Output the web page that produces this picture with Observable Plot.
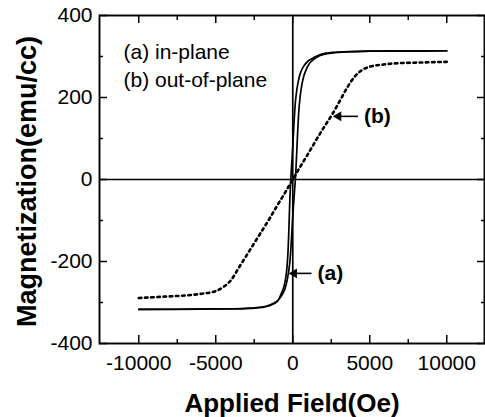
<!DOCTYPE html>
<html><head><meta charset="utf-8">
<script src="https://cdn.jsdelivr.net/npm/d3@7"></script>
<script src="https://cdn.jsdelivr.net/npm/@observablehq/plot@0.6"></script>
<style>body{margin:0;background:#fff}</style>
</head><body><div id="chart"></div>
<script>
const xTicks = [-10000, -5000, 0, 5000, 10000];
const xMinorTicks = [-7500, -2500, 2500, 7500];
const yTicks = [-400, -200, 0, 200, 400];
const yMinorTicks = [-300, -100, 100, 300];
const xTitle = "Applied Field(Oe)";
const yTitle = "Magnetization(emu/cc)";
const legendLabels = ["(a) in-plane", "(b) out-of-plane"];

// (a) in-plane, ascending branch
const inPlaneUpField = [-10000,-6000,-3000,-2000,-1500,-1000,-700,-500,-350,-200,-100,0,100,170,250,330,420,550,700,850,1000,1150,1500,2000,3000,5000,7500,10000];
const inPlaneUpMag   = [-317,-316,-314,-311,-306,-296,-282,-266,-243,-205,-155,-90,-35,0,60,125,180,222,250,266,278,286,297,305,310,313,313,314];
// (a) in-plane, descending branch
const inPlaneDownField = [10000,7500,5000,3000,2000,1500,1300,1000,700,500,350,200,100,0,-130,-200,-260,-330,-420,-580,-800,-1010,-1500,-2000,-3000,-6000,-10000];
const inPlaneDownMag   = [314,314,313,311,307,300,296,289,276,260,238,200,150,80,0,-60,-130,-190,-230,-262,-283,-298,-308,-312,-315,-316,-317];
// (b) out-of-plane
const outPlaneField = [-10000,-9000,-8000,-7000,-6000,-5000,-4500,-4000,-3500,-3000,-2500,-2000,-1500,-1000,-500,0,500,1000,1500,2000,2500,3000,3500,4000,4500,5000,6000,7000,8000,9000,10000];
const outPlaneMag   = [-289,-287,-285,-283,-279,-272,-262,-245,-215,-185,-155,-125,-95,-63,-32,0,32,63,95,126,155,188,222,250,267,275,281,284,285,286,287];

// annotations
const annotLabels = ["(b)", "(a)"];
const annotTipField = [2770, -105];
const annotTailField = [4230, 1215];
const annotMag = [154, -229];

const inPlane = [
  ...inPlaneUpField.map((f, i) => ({field: f, mag: inPlaneUpMag[i], branch: "up"})),
  ...inPlaneDownField.map((f, i) => ({field: f, mag: inPlaneDownMag[i], branch: "down"}))
];
const outPlane = outPlaneField.map((f, i) => ({field: f, mag: outPlaneMag[i]}));
const annots = annotLabels.map((t, i) => ({label: t, tip: annotTipField[i], tail: annotTailField[i], mag: annotMag[i]}));

const font = "'Liberation Sans', Arial, Helvetica, sans-serif";

const chart = Plot.plot({
  width: 485,
  height: 417,
  marginLeft: 99,
  marginRight: 1,
  marginTop: 15,
  marginBottom: 74,
  style: {fontFamily: font, fontSize: "21px", background: "#fff", color: "#000"},
  x: {domain: [-12550, 12450]},
  y: {domain: [-400, 400]},
  marks: [
    Plot.ruleX([0], {stroke: "#000", strokeWidth: 1.7}),
    Plot.ruleY([0], {stroke: "#000", strokeWidth: 1.7}),
    Plot.line(outPlane, {x: "field", y: "mag", stroke: "#000", strokeWidth: 2.6, strokeDasharray: "2.6,3.6", curve: "monotone-x"}),
    Plot.line(inPlane, {x: "field", y: "mag", z: "branch", stroke: "#000", strokeWidth: 1.7, curve: "catmull-rom"}),
    Plot.frame({stroke: "#000", strokeWidth: 1.9}),
    // ticks, inward on all four sides
    Plot.axisX(xTicks, {anchor: "bottom", tickSize: -8, text: null, label: null, strokeWidth: 1.5}),
    Plot.axisX(xMinorTicks, {anchor: "bottom", tickSize: -4, text: null, label: null, strokeWidth: 1.5}),
    Plot.axisX(xTicks, {anchor: "top", tickSize: -7, text: null, label: null, strokeWidth: 1.5}),
    Plot.axisX(xMinorTicks, {anchor: "top", tickSize: -4, text: null, label: null, strokeWidth: 1.5}),
    Plot.axisY(yTicks, {anchor: "left", tickSize: -8, text: null, label: null, strokeWidth: 1.5}),
    Plot.axisY(yMinorTicks, {anchor: "left", tickSize: -4, text: null, label: null, strokeWidth: 1.5}),
    Plot.axisY(yTicks, {anchor: "right", tickSize: -8, text: null, label: null, strokeWidth: 1.5}),
    Plot.axisY(yMinorTicks, {anchor: "right", tickSize: -4, text: null, label: null, strokeWidth: 1.5}),
    // tick labels
    Plot.axisX(xTicks, {anchor: "bottom", tickSize: 0, tickPadding: 12, label: null, fontSize: 21, tickFormat: d => String(d)}),
    Plot.axisY(yTicks, {anchor: "left", tickSize: 0, tickPadding: 7, label: null, fontSize: 21, tickFormat: d => String(d)}),
    // axis titles
    Plot.text([xTitle], {frameAnchor: "bottom", dy: 68, lineAnchor: "bottom", textAnchor: "middle", fontSize: 26, fontWeight: "bold"}),
    Plot.text([yTitle], {frameAnchor: "left", dx: -64, dy: 2, rotate: -90, lineAnchor: "bottom", textAnchor: "middle", fontSize: 27, fontWeight: "bold"}),
    // legend
    ...legendLabels.map((t, i) => Plot.text([t], {frameAnchor: "top-left", dx: 24, dy: 43.5 + i * 28.4, lineAnchor: "bottom", textAnchor: "start", fontSize: 21})),
    // annotation arrows and labels
    Plot.link(annots, {x1: "tail", y1: "mag", x2: "tip", y2: "mag", stroke: "#000", strokeWidth: 1.6}),
    Plot.dot(annots, {x: "tip", y: "mag", symbol: "triangle", r: 3.6, rotate: -90, fill: "#000", dx: 3}),
    Plot.text(annots, {x: "tail", y: "mag", text: "label", dx: 6, textAnchor: "start", lineAnchor: "middle", fontSize: 21, fontWeight: "bold"})
  ]
});
document.getElementById("chart").appendChild(chart);
</script>
</body></html>
